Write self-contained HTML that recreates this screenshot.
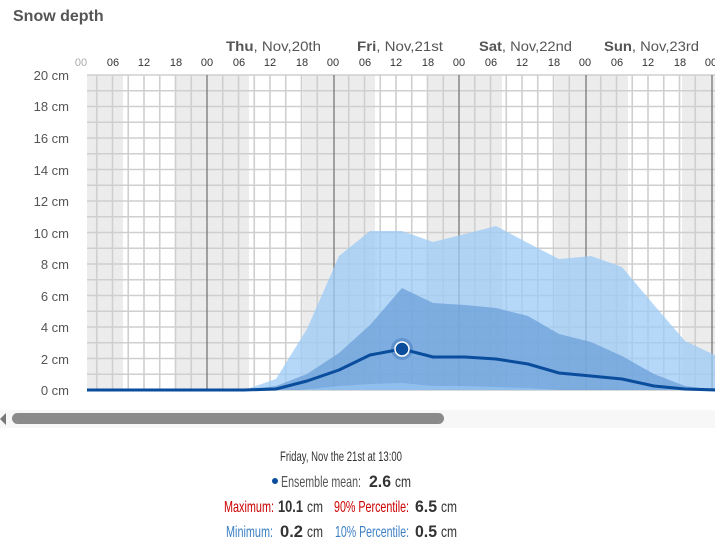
<!DOCTYPE html>
<html><head><meta charset="utf-8"><style>
body{margin:0;width:715px;height:557px;background:#fff;overflow:hidden;font-family:"Liberation Sans",sans-serif}
svg{position:absolute;left:0;top:0}
</style></head><body>
<svg width="715" height="557" viewBox="0 0 715 557" xmlns="http://www.w3.org/2000/svg" font-family="Liberation Sans, sans-serif">
<text x="13" y="21" font-size="16" font-weight="bold" fill="#555">Snow depth</text>
<g font-size="14" fill="#555">
<text x="226" y="51" textLength="95" lengthAdjust="spacingAndGlyphs"><tspan font-weight="bold">Thu</tspan>, Nov,20th</text>
<text x="357" y="51" textLength="86" lengthAdjust="spacingAndGlyphs"><tspan font-weight="bold">Fri</tspan>, Nov,21st</text>
<text x="479" y="51" textLength="93" lengthAdjust="spacingAndGlyphs"><tspan font-weight="bold">Sat</tspan>, Nov,22nd</text>
<text x="604" y="51" textLength="95" lengthAdjust="spacingAndGlyphs"><tspan font-weight="bold">Sun</tspan>, Nov,23rd</text>
</g>
<g font-size="11" fill="#333" text-anchor="middle">
<text x="81" y="66" fill="#aaa">00</text>
<text x="113" y="66">06</text><text x="144" y="66">12</text><text x="176" y="66">18</text>
<text x="207" y="66">00</text><text x="239" y="66">06</text><text x="270" y="66">12</text><text x="302" y="66">18</text>
<text x="333" y="66">00</text><text x="365" y="66">06</text><text x="396" y="66">12</text><text x="428" y="66">18</text>
<text x="459" y="66">00</text><text x="491" y="66">06</text><text x="522" y="66">12</text><text x="554" y="66">18</text>
<text x="585" y="66">00</text><text x="617" y="66">06</text><text x="648" y="66">12</text><text x="680" y="66">18</text>
<text x="711" y="66">00</text>
</g>
<g font-size="13" fill="#555" text-anchor="end">
<text x="69" y="80">20 cm</text><text x="69" y="111">18 cm</text><text x="69" y="143">16 cm</text>
<text x="69" y="175">14 cm</text><text x="69" y="206">12 cm</text><text x="69" y="238">10 cm</text>
<text x="69" y="269">8 cm</text><text x="69" y="301">6 cm</text><text x="69" y="332">4 cm</text>
<text x="69" y="364">2 cm</text><text x="69" y="395">0 cm</text>
</g>
<g fill="#ececec">
<rect x="87" y="75" width="36" height="315"/>
<rect x="176" y="75" width="73" height="315"/>
<rect x="303" y="75" width="72" height="315"/>
<rect x="428" y="75" width="74" height="315"/>
<rect x="555" y="75" width="73" height="315"/>
<rect x="682" y="75" width="33" height="315"/>
</g>
<path stroke="#cfcfcf" stroke-width="1.6" fill="none" d="M87 75H715M87 90.75H715M87 106.5H715M87 122.25H715M87 138H715M87 153.75H715M87 169.5H715M87 185.25H715M87 201H715M87 216.75H715M87 232.5H715M87 248.25H715M87 264H715M87 279.75H715M87 295.5H715M87 311.25H715M87 327H715M87 342.75H715M87 358.5H715M87 374.25H715
M96.75 75V390M112.5 75V390M128.25 75V390M144 75V390M159.75 75V390M175.5 75V390M191.25 75V390M222.75 75V390M238.5 75V390M254.25 75V390M270 75V390M285.75 75V390M301.5 75V390M317.25 75V390M348.75 75V390M364.5 75V390M380.25 75V390M396 75V390M411.75 75V390M427.5 75V390M443.25 75V390M474.75 75V390M490.5 75V390M506.25 75V390M522 75V390M537.75 75V390M553.5 75V390M569.25 75V390M600.75 75V390M616.5 75V390M632.25 75V390M648 75V390M663.75 75V390M679.5 75V390M695.25 75V390"/>
<g stroke="#777" stroke-width="1.3">
<line x1="207" x2="207" y1="75" y2="390"/><line x1="334" x2="334" y1="75" y2="390"/>
<line x1="459" x2="459" y1="75" y2="390"/><line x1="586" x2="586" y1="75" y2="390"/>
<line x1="712" x2="712" y1="75" y2="390"/>
</g>
<line x1="87" x2="715" y1="390" y2="390" stroke="#ccc" stroke-width="1.5"/>
<polygon fill="#9ccbf7" fill-opacity="0.75" points="244,390 276,379 307,329 339,256 370,231 402,231 433,242 465,234 496,226 528,243 559,259 591,256 622,267 654,305 685,341 717,356 717,390"/>
<polygon fill="#6c9fd8" fill-opacity="0.75" points="244,390 276,386 307,374 339,353 370,325 402,288 433,303 465,305 496,308 528,316 559,334 591,342 622,356 654,374 685,386 717,390"/>
<polygon fill="#9ccbf7" fill-opacity="0.6" points="300,390 339,386 370,384 402,383 433,386 465,386 496,387 528,388 560,390"/>
<polyline fill="none" stroke="#0a4d9c" stroke-width="3" stroke-linejoin="round" points="87,390 244,390 276,389 307,381 339,370 370,355 402,349 433,357 465,357 496,359 528,364 559,373 591,376 622,379 654,386 685,389 717,390"/>
<circle cx="402" cy="349" r="11" fill="#0a4d9c" fill-opacity="0.25"/>
<circle cx="402" cy="349" r="7" fill="#0a4d9c" stroke="#fff" stroke-width="1.5"/>
<rect x="0" y="410" width="715" height="18" fill="#f7f7f7"/>
<polygon points="6,413 6,425 0,419" fill="#777"/>
<rect x="12" y="413" width="432" height="11" rx="5.5" fill="#8a8a8a"/>
<text x="280" y="461" font-size="14" fill="#333" textLength="122" lengthAdjust="spacingAndGlyphs">Friday, Nov the 21st at 13:00</text>
<circle cx="275" cy="481" r="3" fill="#0a4d9c"/>
<g font-size="16">
<text x="281" y="487" fill="#555" textLength="80" lengthAdjust="spacingAndGlyphs">Ensemble mean:</text>
<text x="369" y="487" fill="#333" font-weight="bold" font-size="17" textLength="22" lengthAdjust="spacingAndGlyphs">2.6</text>
<text x="395" y="487" fill="#333" textLength="16" lengthAdjust="spacingAndGlyphs">cm</text>
<text x="224" y="512" fill="#cc0000" textLength="50" lengthAdjust="spacingAndGlyphs">Maximum:</text>
<text x="278" y="512" fill="#333" font-weight="bold" font-size="17" textLength="25" lengthAdjust="spacingAndGlyphs">10.1</text>
<text x="307" y="512" fill="#333" textLength="16" lengthAdjust="spacingAndGlyphs">cm</text>
<text x="334" y="512" fill="#cc0000" textLength="75" lengthAdjust="spacingAndGlyphs">90% Percentile:</text>
<text x="415" y="512" fill="#333" font-weight="bold" font-size="17" textLength="22" lengthAdjust="spacingAndGlyphs">6.5</text>
<text x="441" y="512" fill="#333" textLength="16" lengthAdjust="spacingAndGlyphs">cm</text>
<text x="226" y="537" fill="#3b7fc4" textLength="47" lengthAdjust="spacingAndGlyphs">Minimum:</text>
<text x="280" y="537" fill="#333" font-weight="bold" font-size="17" textLength="23" lengthAdjust="spacingAndGlyphs">0.2</text>
<text x="307" y="537" fill="#333" textLength="16" lengthAdjust="spacingAndGlyphs">cm</text>
<text x="335" y="537" fill="#3b7fc4" textLength="74" lengthAdjust="spacingAndGlyphs">10% Percentile:</text>
<text x="415" y="537" fill="#333" font-weight="bold" font-size="17" textLength="22" lengthAdjust="spacingAndGlyphs">0.5</text>
<text x="441" y="537" fill="#333" textLength="16" lengthAdjust="spacingAndGlyphs">cm</text>
</g>
</svg>
</body></html>
